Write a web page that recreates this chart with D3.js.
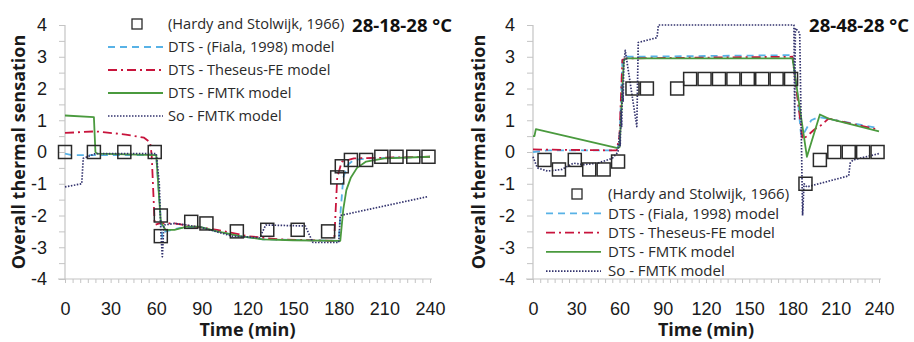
<!DOCTYPE html>
<html>
<head>
<meta charset="utf-8">
<script src="https://cdn.jsdelivr.net/npm/d3@7"></script>
<style>
  html, body { margin: 0; padding: 0; background: #fff; }
  svg { display: block; font-family: "Open Sans", "Liberation Sans", sans-serif; }
</style>
</head>
<body>
<svg id="chart" width="914" height="342"></svg>
<script>
// ---- Data: time (min) and overall thermal sensation ----
const yTicks = [-4, -3, -2, -1, 0, 1, 2, 3, 4];
const xTicks = [0, 30, 60, 90, 120, 150, 180, 210, 240];
const seriesNames = [
  "(Hardy and Stolwijk, 1966)",
  "DTS - (Fiala, 1998) model",
  "DTS - Theseus-FE model",
  "DTS - FMTK model",
  "So - FMTK model"
];

// 28-18-28 °C exposure
const coldTitle = "28-18-28 °C";
const coldHardyT = [0, 19, 39, 59, 63, 63, 83, 93, 113, 133, 153, 173, 179, 182, 188, 198, 208, 218, 229, 239];
const coldHardyV = [0, 0, 0, 0, -2.0, -2.65, -2.2, -2.25, -2.5, -2.45, -2.45, -2.5, -0.8, -0.45, -0.25, -0.25, -0.15, -0.15, -0.15, -0.15];
const coldFialaT = [0, 5, 20, 60, 62, 64, 66, 75, 88, 100, 115, 130, 180, 181, 183, 186, 190, 200, 240];
const coldFialaV = [-0.05, -0.1, -0.1, -0.1, -1.5, -2.7, -2.5, -2.4, -2.35, -2.5, -2.65, -2.75, -2.8, -2.0, -0.8, -0.4, -0.25, -0.2, -0.15];
const coldTheseusT = [0, 20, 40, 52, 56, 57, 59, 62, 72, 85, 100, 120, 140, 177, 179, 182, 190, 240];
const coldTheseusV = [0.6, 0.65, 0.55, 0.45, 0.3, -0.1, -2.3, -2.25, -2.25, -2.35, -2.45, -2.65, -2.75, -2.8, -0.8, -0.3, -0.2, -0.15];
const coldFmtkT = [0, 19, 20, 21, 60, 62, 63, 66, 72, 80, 88, 100, 115, 130, 150, 181, 183, 185, 188, 192, 198, 210, 240];
const coldFmtkV = [1.15, 1.1, 0.0, -0.05, -0.1, -1.5, -2.2, -2.45, -2.45, -2.35, -2.35, -2.5, -2.65, -2.75, -2.78, -2.8, -1.8, -1.2, -0.8, -0.5, -0.3, -0.2, -0.15];
const coldSoT = [0, 11, 12, 20, 60, 62, 63, 64, 65, 72, 80, 90, 110, 128, 132, 158, 163, 180, 181, 239];
const coldSoV = [-1.1, -1.0, -0.2, -0.05, -0.05, -1.0, -2.5, -3.3, -2.3, -2.25, -2.3, -2.38, -2.65, -2.7, -2.3, -2.33, -2.85, -2.85, -2.0, -1.4];

// 28-48-28 °C exposure
const hotTitle = "28-48-28 °C";
const hotHardyT = [8, 18, 29, 39, 49, 59, 69, 79, 100, 109, 119, 129, 139, 149, 159, 169, 179, 189, 199, 209, 219, 229, 239];
const hotHardyV = [-0.25, -0.55, -0.25, -0.55, -0.55, -0.3, 2.0, 2.0, 2.0, 2.3, 2.3, 2.3, 2.3, 2.3, 2.3, 2.3, 2.3, -1.0, -0.25, 0, 0, 0, 0];
const hotFialaT = [0, 10, 58, 60, 62, 65, 180, 183, 186, 188, 193, 198, 240];
const hotFialaV = [0.0, 0.05, 0.05, 0.3, 2.9, 3.0, 3.05, 2.0, 0.5, 0.6, 1.0, 1.1, 0.75];
const hotTheseusT = [0, 58, 60, 62, 65, 180, 184, 187, 190, 195, 200, 205, 240];
const hotTheseusV = [0.08, 0.05, 0.5, 2.9, 2.95, 3.0, 1.5, 0.4, 0.5, 0.7, 0.85, 1.05, 0.7];
const hotFmtkT = [0, 1, 2, 58, 60, 61, 63, 65, 180, 190, 199, 205, 240];
const hotFmtkV = [0.5, 0.5, 0.72, 0.13, 0.15, 1.0, 2.9, 2.95, 2.95, -0.15, 1.18, 1.05, 0.65];
const hotSoT = [0, 3, 10, 20, 28, 35, 45, 55, 59, 60, 60.5, 61, 61.5, 62, 62.5, 63, 64, 72, 73, 86, 87, 181, 181.5, 182, 185, 187, 188, 190, 219, 220, 222, 240];
const hotSoV = [-0.15, -0.5, -0.6, -0.55, -0.35, -0.4, -0.35, -0.2, 0.0, 0.6, 0.2, 1.3, 0.8, 2.1, 1.6, 2.8, 3.2, 0.8, 3.45, 3.6, 4.0, 4.0, 1.0, 3.9, 3.75, -2.0, -1.0, -1.1, -0.75, -0.35, -0.25, -0.05];

// ---- Styles ----
const styles = [
  null,
  { stroke: "#58b2e6", width: 1.8, dash: "7,5" },
  { stroke: "#c8143c", width: 1.8, dash: "9,4,2,4" },
  { stroke: "#4a9a3e", width: 1.8, dash: null },
  { stroke: "#33336e", width: 1.7, dash: "1.5,1.5" }
];

const svg = d3.select("#chart");
const toPts = (ts, vs) => ts.map((t, i) => [t, vs[i]]);

function drawPanel(cfg) {
  const x = d3.scaleLinear().domain([0, 240]).range([cfg.x0, cfg.x1]);
  const y = d3.scaleLinear().domain([-4, 4]).range([279, 25]);
  const g = svg.append("g");

  // Y axis with half-unit minor ticks
  const yAxis = d3.axisLeft(y)
    .tickValues(d3.range(-4, 4.01, 0.5))
    .tickSize(6).tickPadding(12)
    .tickFormat(d => Number.isInteger(d) ? d : "");
  const ya = g.append("g").attr("transform", `translate(${cfg.x0},0)`).call(yAxis);

  // X axis with 5-minute minor ticks
  const xAxis = d3.axisBottom(x)
    .tickValues(d3.range(0, 240.01, 5))
    .tickSize(4).tickPadding(19)
    .tickFormat(d => xTicks.includes(d) ? d : "");
  const xa = g.append("g").attr("transform", "translate(0,279)").call(xAxis);

  [ya, xa].forEach(a => {
    a.select(".domain").attr("stroke", "#c4c4c4").attr("stroke-width", 1.2);
    a.selectAll(".tick line").attr("stroke", "#c4c4c4");
    a.selectAll(".tick text").attr("fill", "#1a1a1a").style("font-size", "18px");
  });
  // extend the x-axis line a little past the plot on both sides
  xa.select(".domain").attr("d", `M${cfg.x0 - 7},0H${cfg.x1 + 2}`);
  ya.select(".domain").attr("d", `M-0,${y(4)}V${y(-4)}`);

  // Axis titles
  g.append("text")
    .attr("x", (cfg.x0 + cfg.x1) / 2).attr("y", 336)
    .attr("text-anchor", "middle")
    .attr("font-weight", "bold").attr("font-size", 18).attr("fill", "#1a1a1a")
    .text("Time (min)");
  g.append("text")
    .attr("transform", `translate(${cfg.yLabelX},${y(0)}) rotate(-90)`)
    .attr("text-anchor", "middle")
    .attr("font-weight", "bold").attr("font-size", 18).attr("fill", "#1a1a1a")
    .text("Overall  thermal  sensation");

  // Model lines
  const line = d3.line().x(d => x(d[0])).y(d => y(d[1]));
  cfg.lines.forEach((pts, i) => {
    const s = styles[i + 1];
    g.append("path")
      .attr("d", line(pts))
      .attr("fill", "none")
      .attr("stroke", s.stroke)
      .attr("stroke-width", s.width)
      .attr("stroke-dasharray", s.dash)
      .attr("stroke-linejoin", "round");
  });

  // Experimental squares
  g.selectAll("rect.obs").data(cfg.obs).join("rect")
    .attr("class", "obs")
    .attr("x", d => x(d[0]) - 6.5).attr("y", d => y(d[1]) - 6.5)
    .attr("width", 13).attr("height", 13)
    .attr("fill", "none").attr("stroke", "#2a2a2a").attr("stroke-width", 1.5);

  // Panel title
  g.append("text")
    .attr("x", cfg.titleX).attr("y", 32)
    .attr("text-anchor", "end")
    .attr("font-weight", "bold").attr("font-size", 18.5).attr("fill", "#111")
    .text(cfg.title);

  // Legend
  const lg = g.append("g");
  seriesNames.forEach((name, i) => {
    const yy = cfg.legY + i * cfg.legStep;
    if (i === 0) {
      lg.append("rect")
        .attr("x", cfg.legSq - 5).attr("y", yy - 5)
        .attr("width", 10).attr("height", 10)
        .attr("fill", "none").attr("stroke", "#2a2a2a").attr("stroke-width", 1.3);
    } else {
      const s = styles[i];
      lg.append("line")
        .attr("x1", cfg.legL0).attr("x2", cfg.legL1)
        .attr("y1", yy).attr("y2", yy)
        .attr("stroke", s.stroke).attr("stroke-width", s.width)
        .attr("stroke-dasharray", s.dash);
    }
    lg.append("text")
      .attr("x", cfg.legText).attr("y", yy)
      .attr("dy", "0.35em")
      .attr("font-size", cfg.legFont).attr("fill", "#2a2a2a")
      .text(name);
  });
}

drawPanel({
  x0: 65, x1: 430, yLabelX: 25, title: coldTitle, titleX: 452,
  obs: toPts(coldHardyT, coldHardyV),
  lines: [toPts(coldFialaT, coldFialaV), toPts(coldTheseusT, coldTheseusV),
          toPts(coldFmtkT, coldFmtkV), toPts(coldSoT, coldSoV)],
  legY: 24, legStep: 23, legSq: 137, legL0: 108, legL1: 163, legText: 168, legFont: 14.6
});

drawPanel({
  x0: 533, x1: 879, yLabelX: 485, title: hotTitle, titleX: 909,
  obs: toPts(hotHardyT, hotHardyV),
  lines: [toPts(hotFialaT, hotFialaV), toPts(hotTheseusT, hotTheseusV),
          toPts(hotFmtkT, hotFmtkV), toPts(hotSoT, hotSoV)],
  legY: 194, legStep: 19.3, legSq: 577, legL0: 546, legL1: 601, legText: 608, legFont: 15
});
</script>
</body>
</html>
